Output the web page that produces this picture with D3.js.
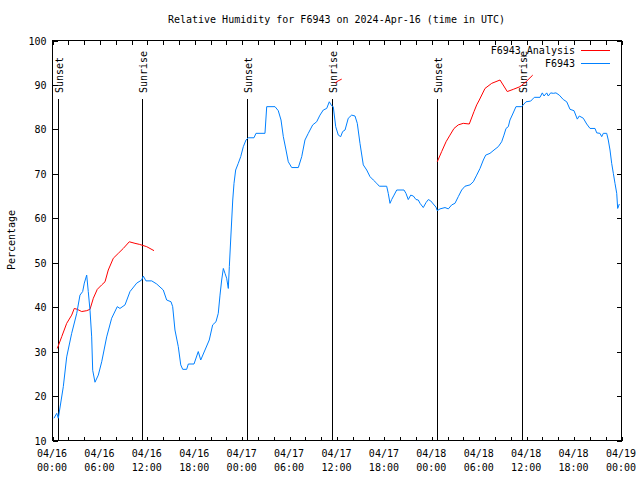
<!DOCTYPE html>
<html>
<head>
<meta charset="utf-8">
<script src="https://cdn.jsdelivr.net/npm/d3@7"></script>
<style>
  html, body { margin: 0; padding: 0; background: #fff; }
  svg { display: block; }
  text { font-family: "DejaVu Sans Mono", "Liberation Mono", monospace; font-size: 10px; fill: #000; }
</style>
</head>
<body>
<script>
// ---------- DATA ----------
const titleText = "Relative Humidity for F6943 on 2024-Apr-16 (time in UTC)";
const yLabel = "Percentage";
const seriesNames = ["F6943_Analysis", "F6943"];
const startTime = "2024-04-16T00:00:00Z";
const endTime = "2024-04-19T00:00:00Z";
const yTicks = [10, 20, 30, 40, 50, 60, 70, 80, 90, 100];

// hours after 2024-04-16 00:00 UTC
const obsHours = [0.25,0.6,0.8,1.43,1.86,2.49,3.13,3.54,3.88,4.09,4.39,4.59,4.81,5.02,5.15,5.44,5.86,6.29,6.92,7.55,
  8.26,8.6,9.24,9.87,10.72,11.35,11.55,11.89,12.62,13.25,14.08,14.51,15.06,15.27,15.56,15.98,16.29,16.54,17.04,17.25,
  17.97,18.51,18.82,19.36,19.9,20.33,20.75,21.04,21.26,21.47,21.68,21.89,22.1,22.31,22.44,22.61,22.74,22.87,23.03,23.24,
  23.57,23.88,24.21,24.55,24.84,25.56,25.81,26.95,27.17,28.22,28.63,28.98,29.27,29.61,29.9,30.33,31.17,31.6,32.01,32.43,
  32.99,33.49,33.91,34.33,34.76,35.09,35.39,35.59,35.9,36.23,36.53,36.78,37.08,37.49,37.92,38.34,38.63,38.97,39.39,39.82,
  40.24,40.66,41.09,41.42,42.35,42.55,42.77,42.98,43.28,43.62,44.54,44.79,45.08,45.39,45.72,46.06,46.35,46.57,46.98,47.32,
  47.62,47.92,48.25,48.59,48.75,49.1,49.73,50.15,50.58,50.99,51.41,51.84,52.26,52.89,53.31,53.74,54.16,54.58,54.88,55.42,
  55.93,56.47,56.9,57.19,57.45,57.74,57.95,58.3,58.71,59.43,59.98,60.57,61.03,61.75,62.04,62.26,62.6,62.8,63.1,63.43,
  63.77,64.19,64.7,65.13,65.55,66.05,66.47,66.72,67.23,67.66,68.08,68.71,68.93,69.34,69.56,69.76,70.19,70.39,70.61,70.82,
  71.03,71.24,71.46,71.58,71.79];
const obsValues = [14.9,16.0,14.9,22.0,28.7,34.0,38.5,42.6,43.4,45.3,47.1,43.4,39.2,33.2,25.7,23.0,24.6,27.6,33.2,37.4,
  40.0,39.6,40.4,43.4,45.3,46.0,46.9,45.8,45.8,45.1,43.75,41.5,41.1,40.0,34.75,31.0,26.9,25.9,25.9,27.1,
  27.1,29.9,28.0,30.25,32.5,35.9,36.6,38.5,42.6,46.0,48.6,47.5,46.4,44.1,49.0,55.0,59.5,64.0,67.75,70.75,
  72.25,73.75,76.0,77.5,78.0,78.0,79.0,79.0,85.0,85.0,84.1,82.0,78.25,75.25,72.6,71.3,71.3,73.75,77.5,79.0,
  80.9,81.6,83.1,84.25,84.6,86.1,85.2,85.0,80.5,78.6,78.25,79.4,79.75,82.4,83.1,82.9,81.25,76.75,71.9,70.75,
  69.25,68.5,67.75,67.1,67.1,65.5,63.25,64.1,65.1,66.25,66.25,65.5,64.1,65.1,64.9,64.1,64.0,63.25,62.3,63.4,
  64.1,63.8,63.1,62.4,61.6,62.0,62.3,62.0,62.9,63.25,64.75,66.25,67.1,67.4,68.1,69.6,71.1,73.0,74.1,74.5,
  75.25,76.0,77.1,78.6,80.1,80.5,82.0,83.35,85.0,85.0,86.1,86.25,87.1,87.1,88.1,87.4,88.1,87.4,88.1,88.0,
  88.1,87.6,86.6,86.1,84.4,84.1,82.2,82.9,82.4,81.1,80.1,80.1,79.1,79.0,78.25,79.0,79.0,77.5,75.25,72.25,
  70.0,67.75,65.5,62.1,63.1];

// analysis series, null = gap
const anaHours = [0.67,1.23,1.86,2.49,2.82,3.2,3.76,4.39,4.81,5.23,5.73,6.29,6.71,7.12,7.76,8.39,9.02,9.78,10.5,11.1,11.98,12.91,
  null,
  35.81,36.2,36.66,
  null,
  48.75,49.31,49.86,50.36,50.87,51.41,52.04,52.8,53.4,53.74,54.07,54.79,55.64,56.69,57.61,58.37,59.22,59.98,60.83];
const anaValues = [30.6,33.25,36.25,38.1,39.6,39.4,38.9,39.1,39.4,41.9,43.9,44.9,45.6,48.25,50.9,52.0,53.1,54.6,54.25,54.0,53.5,52.6,
  null,
  90.3,90.8,91.2,
  null,
  72.6,74.9,77.1,78.6,80.1,80.9,81.25,81.1,83.9,85.4,86.5,89.1,90.25,91.0,88.4,88.9,89.5,90.6,92.1];

const sunEvents = ["Sunset", "Sunrise", "Sunset", "Sunrise", "Sunset", "Sunrise"];
const sunTimes = ["2024-04-16T00:45:00Z", "2024-04-16T11:26:00Z", "2024-04-17T00:40:00Z",
                  "2024-04-17T11:26:00Z", "2024-04-18T00:43:00Z", "2024-04-18T11:25:00Z"];

const colors = ["#ff0000", "#0080ff"];

// ---------- CHART ----------
const W = 640, H = 480;
const pL = 52, pR = 621, pT = 40, pB = 440;
const t0 = new Date(startTime);
const toDate = h => new Date(t0.getTime() + h * 3600e3);

const svg = d3.select("body").append("svg").attr("width", W).attr("height", H);

const x = d3.scaleUtc().domain([new Date(startTime), new Date(endTime)]).range([pL, pR]);
const y = d3.scaleLinear().domain([10, 100]).range([pB, pT]);

// title
svg.append("text").attr("x", (pL + pR) / 2).attr("y", 23)
  .attr("text-anchor", "middle").text(titleText);

// y label
svg.append("text").attr("transform", `translate(15,${(pT + pB) / 2}) rotate(-90)`)
  .attr("text-anchor", "middle").text(yLabel);

const g = svg.append("g").attr("transform", "translate(0.5,0.5)");

// axes
const minorTicks = d3.utcHour.every(2).range(new Date(startTime), d3.utcHour.offset(new Date(endTime), 1));
const majorTicks = d3.utcHour.every(6).range(new Date(startTime), d3.utcHour.offset(new Date(endTime), 1));

const xb = g.append("g").attr("transform", `translate(0,${pB})`)
  .call(d3.axisBottom(x).tickValues(minorTicks).tickSize(-4).tickFormat(""));
const xt = g.append("g").attr("transform", `translate(0,${pT})`)
  .call(d3.axisTop(x).tickValues(minorTicks).tickSize(-4).tickFormat(""));
const yl = g.append("g").attr("transform", `translate(${pL},0)`)
  .call(d3.axisLeft(y).tickValues(yTicks).tickSize(-5).tickPadding(10).tickFormat(d3.format("d")));
const yr = g.append("g").attr("transform", `translate(${pR},0)`)
  .call(d3.axisRight(y).tickValues(yTicks).tickSize(-5).tickFormat(""));

[xb, xt, yl, yr].forEach(a => {
  a.select(".domain").remove();
  a.selectAll("line").attr("stroke", "#000").attr("shape-rendering", "crispEdges");
  a.selectAll("text").attr("font-family", null).attr("font-size", null).attr("fill", "#000");
});
yl.selectAll("text").attr("dy", "0.35em").attr("x", -6).attr("text-anchor", "end");

// x tick labels (two lines)
const fmtD = d3.utcFormat("%m/%d"), fmtT = d3.utcFormat("%H:%M");
const xl = svg.append("g");
majorTicks.forEach(d => {
  const t = xl.append("text").attr("x", x(d)).attr("y", 457).attr("text-anchor", "middle");
  t.append("tspan").attr("x", x(d)).text(fmtD(d));
  t.append("tspan").attr("x", x(d)).attr("dy", 14).text(fmtT(d));
});

// sunrise / sunset lines
sunTimes.forEach((s, i) => {
  const xv = Math.round(x(new Date(s)));
  g.append("line").attr("x1", xv).attr("x2", xv).attr("y1", 98).attr("y2", pB)
    .attr("stroke", "#000").attr("shape-rendering", "crispEdges");
  svg.append("text").attr("transform", `translate(${xv + 4.5},93) rotate(-90)`)
    .attr("text-anchor", "start").text(sunEvents[i]);
});

// border
g.append("rect").attr("x", pL).attr("y", pT).attr("width", pR - pL).attr("height", pB - pT)
  .attr("fill", "none").attr("stroke", "#000").attr("shape-rendering", "crispEdges");

// lines
const line = d3.line().defined(d => d[1] !== null).x(d => x(toDate(d[0]))).y(d => y(d[1]));
const anaData = anaHours.map((h, i) => [h, anaValues[i]]);
const obsData = obsHours.map((h, i) => [h, obsValues[i]]);

svg.append("path").datum(anaData).attr("d", line).attr("fill", "none")
  .attr("stroke", colors[0]).attr("stroke-width", 1);
svg.append("path").datum(obsData).attr("d", line).attr("fill", "none")
  .attr("stroke", colors[1]).attr("stroke-width", 1);

// legend
const legY = [50, 63];
seriesNames.forEach((n, i) => {
  svg.append("text").attr("x", 575).attr("y", legY[i]).attr("dy", "0.35em")
    .attr("text-anchor", "end").text(n);
  svg.append("line").attr("x1", 581).attr("x2", 610).attr("y1", legY[i] + 0.5).attr("y2", legY[i] + 0.5)
    .attr("stroke", colors[i]).attr("stroke-width", 1);
});
</script>
</body>
</html>
